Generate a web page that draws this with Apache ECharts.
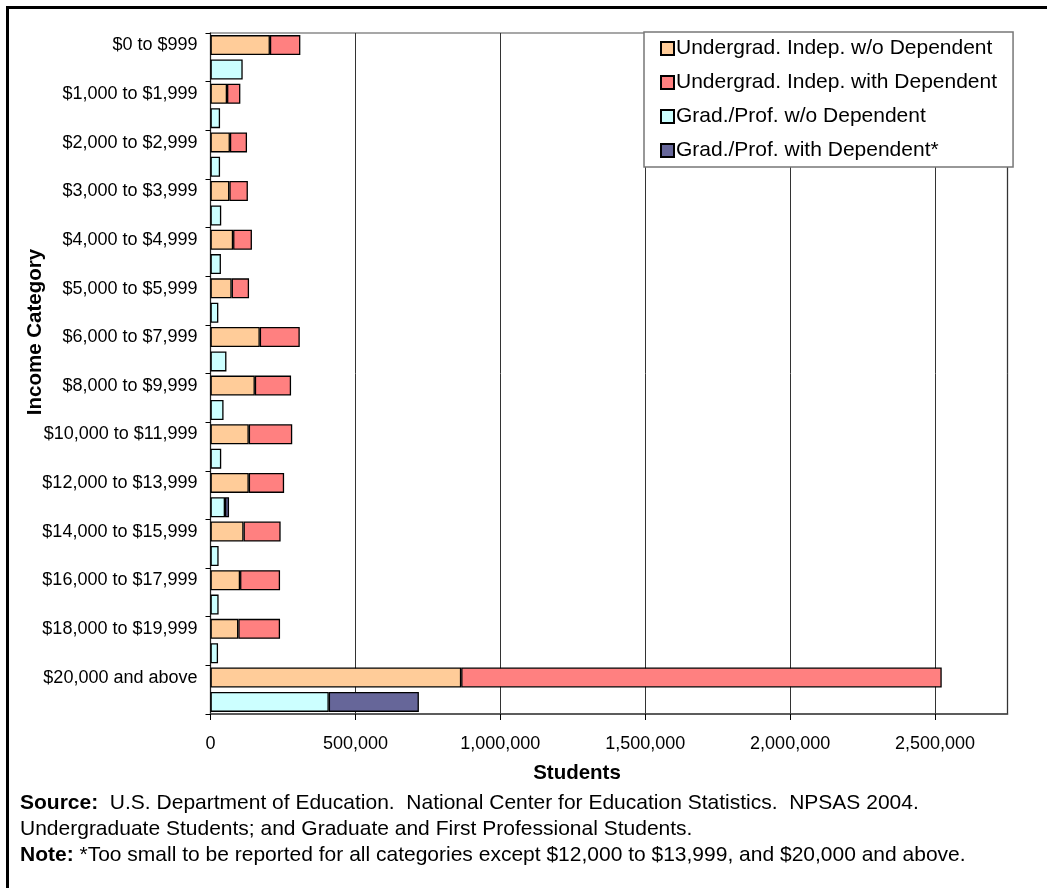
<!DOCTYPE html>
<html>
<head>
<meta charset="utf-8">
<script src="https://cdn.jsdelivr.net/npm/echarts@6/dist/echarts.min.js"></script>
<style>
  html, body { margin: 0; padding: 0; background: #fff; }
  #chart { width: 1047px; height: 888px; }
</style>
</head>
<body>
<div id="chart"></div>
<script>
// Income categories, top to bottom
const categories = [
  '$0 to $999', '$1,000 to $1,999', '$2,000 to $2,999', '$3,000 to $3,999',
  '$4,000 to $4,999', '$5,000 to $5,999', '$6,000 to $7,999', '$8,000 to $9,999',
  '$10,000 to $11,999', '$12,000 to $13,999', '$14,000 to $15,999',
  '$16,000 to $17,999', '$18,000 to $19,999', '$20,000 and above'
];

// Student counts per category
const undergradNoDep = [205000, 57000, 67000, 65000, 78000, 73000, 170000, 153000, 132000, 132000, 114000, 102000, 96000, 865000];
const undergradWithDep = [105000, 46000, 59000, 64000, 65000, 60000, 138000, 125000, 150000, 122000, 128000, 138000, 144000, 1658000];
const gradNoDep = [111000, 33000, 33000, 37000, 36000, 27000, 55000, 45000, 37000, 50000, 28000, 28000, 26000, 408000];
const gradWithDep = [null, null, null, null, null, null, null, null, null, 14000, null, null, null, 311000];

const seriesNames = [
  'Undergrad. Indep. w/o Dependent',
  'Undergrad. Indep. with Dependent',
  'Grad./Prof. w/o Dependent',
  'Grad./Prof. with Dependent*'
];

// X axis ticks
const xMin = 0;
const xMax = 2750000;
const xStep = 500000;

const FONT = '"Liberation Sans", Arial, sans-serif';

function fmt(v) {
  return Math.round(v).toString().replace(/\B(?=(\d{3})+(?!\d))/g, ',');
}

const chart = echarts.init(document.getElementById('chart'), null, { renderer: 'canvas' });

function barSeries(name, data, stack, color) {
  return {
    name: name,
    type: 'bar',
    stack: stack,
    data: data,
    barWidth: 20,
    barGap: '22%',
    itemStyle: { color: color, borderColor: '#000', borderWidth: 1.3 },
    emphasis: { disabled: true }
  };
}

chart.setOption({
  animation: false,
  textStyle: { fontFamily: FONT },
  grid: {
    left: 210.5, right: 39.5, top: 33, bottom: 174,
    show: true, borderColor: '#8a8a8a', borderWidth: 1.5, backgroundColor: '#fff'
  },
  legend: {
    orient: 'vertical',
    left: 644, top: 32,
    backgroundColor: '#fff',
    borderColor: '#777', borderWidth: 1.5,
    padding: [6, 16, 6, 16],
    itemWidth: 13, itemHeight: 13, itemGap: 13,
    icon: 'rect',
    textStyle: { fontFamily: FONT, fontSize: 21, color: '#000', padding: [0, 0, 0, -3], lineHeight: 21 },
    data: seriesNames
  },
  xAxis: {
    type: 'value',
    min: xMin, max: xMax, interval: xStep,
    axisLine: { show: true, lineStyle: { color: '#444', width: 1.5 } },
    axisTick: { show: true, length: 6, lineStyle: { color: '#000' } },
    splitLine: { show: true, lineStyle: { color: '#333', width: 1 } },
    axisLabel: {
      showMaxLabel: false,
      fontFamily: FONT, fontSize: 18, color: '#000', margin: 21,
      formatter: fmt
    }
  },
  yAxis: {
    type: 'category',
    data: categories,
    inverse: true,
    axisLine: { show: true, lineStyle: { color: '#222', width: 1 } },
    axisTick: { show: true, length: 5, interval: 0, lineStyle: { color: '#000' } },
    axisLabel: {
      interval: 0, fontFamily: FONT, fontSize: 18, color: '#000', margin: 13,
      lineHeight: 24,
      // second (blank) line lifts the name up level with the undergraduate bar
      formatter: function (v) { return v + '\n '; }
    }
  },
  series: [
    barSeries(seriesNames[0], undergradNoDep, 'undergrad', '#FFCC99'),
    barSeries(seriesNames[1], undergradWithDep, 'undergrad', '#FF8080'),
    barSeries(seriesNames[2], gradNoDep, 'grad', '#CCFFFF'),
    barSeries(seriesNames[3], gradWithDep, 'grad', '#666699')
  ],
  graphic: [
    {
      type: 'rect', silent: true, z: 100,
      shape: { x: 7.5, y: 7.5, width: 1100, height: 950 },
      style: { fill: 'none', stroke: '#000', lineWidth: 3 }
    },
    {
      type: 'text', silent: true,
      x: 577, y: 773,
      style: {
        text: 'Students', fontFamily: FONT, fontSize: 20.5, fontWeight: 'bold',
        fill: '#000', align: 'center', verticalAlign: 'middle'
      }
    },
    {
      type: 'text', silent: true,
      x: 35, y: 332, rotation: Math.PI / 2,
      style: {
        text: 'Income Category', fontFamily: FONT, fontSize: 20.5, fontWeight: 'bold',
        fill: '#000', align: 'center', verticalAlign: 'middle'
      }
    },
    {
      type: 'text', silent: true,
      x: 20, y: 790,
      style: {
        text: '{b|Source:}  U.S. Department of Education.  National Center for Education Statistics.  NPSAS 2004.\n' +
              'Undergraduate Students; and Graduate and First Professional Students.\n' +
              '{b|Note:} *Too small to be reported for all categories except $12,000 to $13,999, and $20,000 and above.',
        fontFamily: FONT, fontSize: 21, lineHeight: 26, fill: '#000',
        rich: { b: { fontWeight: 'bold', fontFamily: FONT, fontSize: 21, lineHeight: 26 } }
      }
    }
  ]
});
</script>
</body>
</html>
